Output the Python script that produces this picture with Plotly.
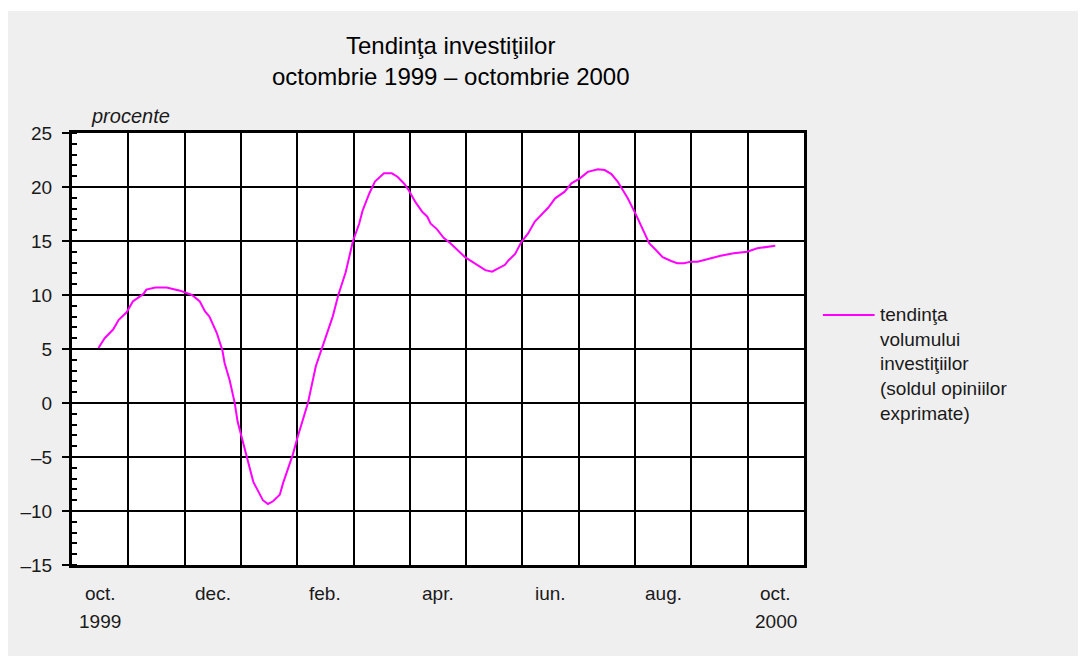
import plotly.graph_objects as go

# ---------------- data ----------------
month_pos = [0.47, 0.58, 0.73, 0.83, 0.97, 1.08, 1.27, 1.32, 1.48, 1.68, 1.92, 2.13, 2.27, 2.36, 2.44,
             2.57, 2.67, 2.71, 2.80, 2.89, 2.94, 3.10, 3.22, 3.39, 3.48, 3.57, 3.69, 3.75, 3.92, 4.01,
             4.10, 4.19, 4.33, 4.45, 4.54, 4.63, 4.73, 4.86, 4.99, 5.10, 5.16, 5.28, 5.38, 5.54, 5.68,
             5.78, 5.90, 5.98, 6.10, 6.22, 6.31, 6.37, 6.48, 6.60, 6.72, 6.87, 6.98, 7.16, 7.34, 7.46,
             7.57, 7.69, 7.75, 7.87, 7.98, 8.10, 8.22, 8.34, 8.46, 8.58, 8.75, 8.87, 9.02, 9.16, 9.34,
             9.46, 9.58, 9.69, 9.87, 10.02, 10.16, 10.25, 10.37, 10.49, 10.64, 10.75, 10.87, 10.99, 11.11,
             11.28, 11.52, 11.75, 11.99, 12.17, 12.34, 12.49]
trend_values = [5.1, 6.0, 6.8, 7.7, 8.4, 9.4, 10.1, 10.5, 10.7, 10.7, 10.4, 10.0, 9.4, 8.5, 8.0,
                6.5, 4.9, 3.7, 2.1, 0.0, -1.7, -5.0, -7.3, -9.0, -9.35, -9.1, -8.5, -7.4, -4.8, -3.1,
                -1.6, 0.0, 3.4, 5.2, 6.5, 8.0, 10.0, 12.1, 15.0, 16.6, 17.8, 19.4, 20.5, 21.27, 21.27,
                20.95, 20.3, 19.7, 18.6, 17.7, 17.25, 16.6, 16.1, 15.3, 14.8, 14.1, 13.5, 12.9, 12.3, 12.16,
                12.47, 12.8, 13.2, 13.8, 14.9, 15.7, 16.8, 17.5, 18.1, 18.95, 19.57, 20.34, 20.8, 21.4, 21.64,
                21.57, 21.2, 20.5, 18.95, 17.4, 15.9, 14.8, 14.17, 13.5, 13.15, 12.94, 12.94, 13.09, 13.09,
                13.33, 13.64, 13.86, 14.01, 14.32, 14.48, 14.57]

n_months = 13
month_labels = ["oct.", "dec.", "feb.", "apr.", "iun.", "aug.", "oct."]
month_label_pos = [0.5, 2.5, 4.5, 6.5, 8.5, 10.5, 12.5]
year_labels = ["1999", "2000"]
year_label_pos = [0.5, 12.5]
y_ticks = [-15, -10, -5, 0, 5, 10, 15, 20, 25]
y_tick_text = ["–15", "–10", "–5", "0", "5", "10", "15", "20", "25"]

title_lines = ["Tendinţa investiţiilor", "octombrie 1999 – octombrie 2000"]
y_unit = "procente"
series_name = "tendinţa<br>volumului<br>investiţiilor<br>(soldul opiniilor<br>exprimate)"

# ---------------- layout geometry (page pixels; page body has an 8px margin) ----------------
OFF = 8
W, H = 1086 - OFF, 656 - OFF
L, R, T, B = 68, 804, 133, 565  # plot area in page pixels
FONT = "Liberation Sans, Arial, sans-serif"
TXT = "#1a1a1a"


def px_x(px):
    return (px - L) / (R - L)


def px_y(py):
    return (B - py) / (B - T)


fig = go.Figure()
fig.add_trace(go.Scatter(x=month_pos, y=trend_values, mode="lines",
                         line=dict(color="#ff00ff", width=2), name="tendinţa volumului investiţiilor",
                         showlegend=False, hoverinfo="x+y"))

annotations = []
for line_text, ypx in zip(title_lines, [45, 76]):
    annotations.append(dict(text=line_text, x=px_x(449), y=px_y(ypx), xref="paper", yref="paper",
                            showarrow=False, xanchor="center", yanchor="middle",
                            font=dict(family=FONT, size=24, color="black")))
annotations.append(dict(text="<i>" + y_unit + "</i>", x=px_x(85), y=px_y(116), xref="paper", yref="paper",
                        showarrow=False, xanchor="left", yanchor="middle",
                        font=dict(family=FONT, size=20, color=TXT)))
for lab, pos in zip(month_labels, month_label_pos):
    annotations.append(dict(text=lab, x=pos, y=px_y(593), xref="x", yref="paper", showarrow=False,
                            xanchor="center", yanchor="middle", font=dict(family=FONT, size=19, color=TXT)))
for lab, pos in zip(year_labels, year_label_pos):
    annotations.append(dict(text=lab, x=pos, y=px_y(621), xref="x", yref="paper", showarrow=False,
                            xanchor="center", yanchor="middle", font=dict(family=FONT, size=19, color=TXT)))
annotations.append(dict(text=series_name, x=px_x(878), y=px_y(302), xref="paper", yref="paper",
                        showarrow=False, xanchor="left", yanchor="top", align="left",
                        font=dict(family=FONT, size=19, color=TXT)))

shapes = [
    # thin white strip above the grey panel
    dict(type="rect", xref="paper", yref="paper", x0=px_x(0), x1=px_x(1100), y0=px_y(11), y1=px_y(0),
         fillcolor="white", line=dict(width=0), layer="below"),
    # legend line
    dict(type="line", xref="paper", yref="paper", x0=px_x(823), x1=px_x(875), y0=px_y(315), y1=px_y(315),
         line=dict(color="#ff00ff", width=2)),
]

fig.update_layout(
    width=W, height=H,
    margin=dict(l=L - OFF, r=W - (R - OFF), t=T - OFF, b=H - (B - OFF), pad=0),
    paper_bgcolor="#efefef", plot_bgcolor="white",
    font=dict(family=FONT, size=19, color=TXT),
    showlegend=False,
    annotations=annotations,
    shapes=shapes,
    xaxis=dict(range=[0, n_months], tickvals=list(range(n_months + 1)), showticklabels=False,
               ticks="", showgrid=True, gridcolor="black", gridwidth=2, zeroline=False,
               showline=True, linecolor="black", linewidth=3, mirror=True, fixedrange=True),
    yaxis=dict(range=[-15, 25], tickvals=y_ticks, ticktext=y_tick_text, ticks="outside",
               ticklen=7, tickwidth=2, tickcolor="black", ticklabelstandoff=6,
               tickfont=dict(family=FONT, size=19, color=TXT),
               showgrid=True, gridcolor="black", gridwidth=2, zeroline=False,
               showline=True, linecolor="black", linewidth=3, mirror=True,
               minor=dict(dtick=1, tick0=0, ticks="inside", ticklen=5, tickwidth=1.5,
                          tickcolor="black", showgrid=False),
               fixedrange=True),
)

fig.write_html("out.html")
